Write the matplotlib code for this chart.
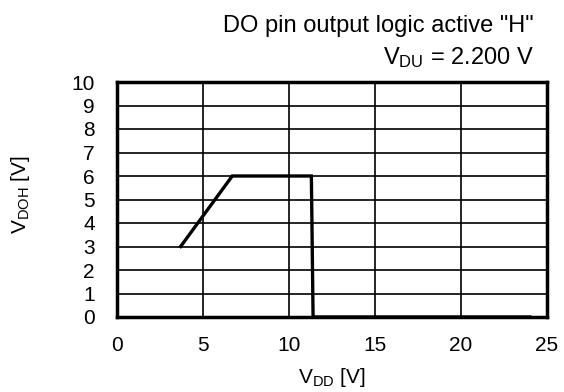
import matplotlib.pyplot as plt

plt.rcParams['font.family'] = ['Liberation Sans', 'DejaVu Sans']
plt.rcParams['mathtext.fontset'] = 'custom'
plt.rcParams['mathtext.rm'] = 'Liberation Sans'
plt.rcParams['mathtext.it'] = 'Liberation Sans:italic'

# DO output voltage vs supply voltage
vdd = [3.7, 6.7, 11.3, 11.4, 24.0]
vdoh = [3, 6, 6, 0, 0]

x_ticks = [0, 5, 10, 15, 20, 25]
y_ticks = list(range(0, 11))

W, H = 564, 392
fig = plt.figure(figsize=(W / 100, H / 100), dpi=100)
# axes box in pixels: left 117, right 547, top 82, bottom 317
ax = fig.add_axes([117 / W, (H - 317) / H, 430 / W, 235 / H])

ax.plot(vdd, vdoh, color='black', linewidth=2.4, solid_joinstyle='miter', zorder=3, clip_on=False)

ax.set_xlim(0, 25)
ax.set_ylim(0, 10)
ax.set_xticks(x_ticks)
ax.set_yticks(y_ticks)
ax.grid(True, color='black', linewidth=1.2)
ax.tick_params(length=0, labelsize=15)
ax.tick_params(axis='x', pad=14)
ax.tick_params(axis='y', pad=16)
for s in ax.spines.values():
    s.set_linewidth(2.5)
    s.set_zorder(4)

ax.set_xlabel(r'V$_{\mathrm{DD}}$ [V]', fontsize=15, va='bottom')
ax.xaxis.set_label_coords(0.5, -(389 - 317) / 235)
ax.set_ylabel(r'V$_{\mathrm{DOH}}$ [V]', fontsize=15, va='center')
ax.yaxis.set_label_coords(-(117 - 20) / 430, 0.52)

fig.text(534 / W, 1 - 32 / H, 'DO pin output logic active "H"', ha='right', va='baseline', fontsize=17)
fig.text(534 / W, 1 - 64 / H, r'V$_{\mathrm{DU}}$ = 2.200 V', ha='right', va='baseline', fontsize=17)

fig.savefig('out.png', dpi=100)
